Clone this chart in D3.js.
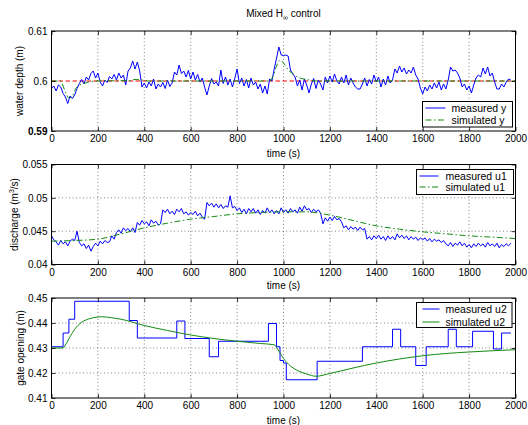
<!DOCTYPE html>
<html>
<head>
<meta charset="utf-8">
<script src="https://cdn.jsdelivr.net/npm/d3@7"></script>
<style>
  body { margin: 0; background: #fff; }
  svg { font-family: "Liberation Sans", Arial, sans-serif; }
</style>
</head>
<body>
<svg id="chart" width="528" height="425"></svg>
<script>
// ---------- data ----------

// measured signals are sampled every 10 s, 0 .. 1980 s
var sampleStep = 10;

var depthMeasured = [
  0.5985,0.5990,0.5980,0.5992,0.5988,0.5975,0.5968,0.5955,0.5970,0.5965,
  0.5972,0.5985,0.5995,0.6003,0.5994,0.6008,0.6002,0.6015,0.6020,0.6006,
  0.6016,0.5998,0.5990,0.6002,0.5997,0.6009,0.6004,0.6013,0.6002,0.6016,
  0.6006,0.6012,0.5992,0.6020,0.6026,0.6040,0.6024,0.6038,0.6020,0.5988,
  0.5996,0.5986,0.5998,0.5990,0.6004,0.5984,0.5994,0.5988,0.5997,0.5985,
  0.6002,0.5989,0.5996,0.6018,0.6012,0.6032,0.6015,0.6020,0.6008,0.6021,
  0.6004,0.6018,0.6002,0.6013,0.5998,0.6006,0.5988,0.5972,0.5990,0.6005,
  0.5994,0.5998,0.5990,0.6022,0.5995,0.6008,0.5992,0.6004,0.5988,0.6005,
  0.6024,0.5995,0.6006,0.5990,0.6003,0.5986,0.6006,0.5992,0.5998,0.5984,
  0.5994,0.5976,0.5990,0.5974,0.6004,0.6000,0.6024,0.6046,0.6068,0.6052,
  0.6051,0.6052,0.6050,0.6022,0.6014,0.6008,0.5990,0.6002,0.5982,0.6004,
  0.5992,0.5976,0.5994,0.6005,0.5985,0.6002,0.5994,0.5982,0.6008,0.5996,
  0.6010,0.5998,0.6014,0.6000,0.5994,0.6008,0.5996,0.6012,0.5992,0.6006,
  0.5996,0.5988,0.5984,0.5984,0.5994,0.6006,0.5990,0.6003,0.5994,0.6012,
  0.5998,0.6008,0.5988,0.6004,0.5992,0.6010,0.5996,0.6002,0.6024,0.6016,
  0.6030,0.6018,0.6026,0.6014,0.6022,0.6016,0.6028,0.6012,0.6004,0.5986,
  0.5974,0.5988,0.5980,0.5992,0.5984,0.5996,0.5986,0.5998,0.5982,0.5994,
  0.5984,0.6002,0.6028,0.6020,0.6022,0.6016,0.6006,0.5988,0.5994,0.5982,
  0.5990,0.5976,0.5992,0.6006,0.6012,0.6008,0.6026,0.6014,0.6028,0.6010,
  0.6016,0.5998,0.5984,0.5984,0.5994,0.5988,0.5998,0.6004,0.6002
];

var depthSimT = [0, 40, 50, 60, 75, 90, 105, 120, 140, 160, 200, 340, 360, 390, 420,
                 940, 955, 970, 985, 1000, 1020, 1040, 1060, 1100, 1150, 2000];
var depthSimV = [0.6000, 0.6000, 0.5990, 0.5978, 0.5966, 0.5970, 0.5985, 0.5992, 0.5995, 0.5998, 0.6000,
                 0.6001, 0.6003, 0.6002, 0.6000, 0.6000, 0.6010, 0.6030, 0.6042, 0.6036,
                 0.6022, 0.6015, 0.6008, 0.6003, 0.6000, 0.6000];
var depthRef = 0.6;

var flowMeasured = [
  0.0443,0.0437,0.0434,0.0429,0.0436,0.0431,0.0434,0.0428,0.0435,0.0438,
  0.0436,0.0450,0.0433,0.0428,0.0431,0.0424,0.0429,0.0420,0.0427,0.0432,
  0.0428,0.0435,0.0431,0.0436,0.0433,0.0434,0.0443,0.0438,0.0448,0.0452,
  0.0447,0.0455,0.0451,0.0454,0.0449,0.0455,0.0448,0.0463,0.0459,0.0466,
  0.0461,0.0464,0.0458,0.0467,0.0462,0.0465,0.0459,0.0461,0.0482,0.0478,
  0.0483,0.0476,0.0480,0.0475,0.0483,0.0479,0.0484,0.0476,0.0479,0.0474,
  0.0478,0.0475,0.0480,0.0473,0.0477,0.0471,0.0468,0.0493,0.0488,0.0492,
  0.0486,0.0491,0.0485,0.0490,0.0484,0.0488,0.0486,0.0503,0.0485,0.0487,
  0.0481,0.0485,0.0478,0.0483,0.0476,0.0484,0.0479,0.0484,0.0477,0.0482,
  0.0475,0.0481,0.0477,0.0485,0.0478,0.0482,0.0476,0.0481,0.0476,0.0485,
  0.0478,0.0482,0.0477,0.0484,0.0479,0.0482,0.0477,0.0486,0.0480,0.0488,
  0.0482,0.0484,0.0478,0.0483,0.0479,0.0482,0.0477,0.0461,0.0470,0.0465,
  0.0471,0.0466,0.0472,0.0467,0.0469,0.0464,0.0455,0.0458,0.0452,0.0457,
  0.0453,0.0456,0.0451,0.0456,0.0452,0.0454,0.0438,0.0442,0.0437,0.0443,
  0.0439,0.0444,0.0438,0.0442,0.0436,0.0443,0.0438,0.0442,0.0437,0.0446,
  0.0440,0.0444,0.0439,0.0443,0.0437,0.0442,0.0438,0.0441,0.0436,0.0440,
  0.0437,0.0440,0.0435,0.0439,0.0434,0.0438,0.0435,0.0437,0.0433,0.0436,
  0.0431,0.0428,0.0433,0.0427,0.0432,0.0429,0.0434,0.0428,0.0432,0.0426,
  0.0430,0.0425,0.0431,0.0427,0.0432,0.0428,0.0431,0.0426,0.0433,0.0428,
  0.0431,0.0427,0.0432,0.0425,0.0430,0.0427,0.0431,0.0428,0.0432
];

var flowSimT = [0, 100, 200, 300, 400, 500, 600, 700, 800, 900, 1000,
                1100, 1200, 1300, 1400, 1500, 1600, 1700, 1800, 1900, 2000];
var flowSimV = [0.0435, 0.0436, 0.0438, 0.0446, 0.0455, 0.0462, 0.0468, 0.0472, 0.0476, 0.0478, 0.0479,
                0.0479, 0.0474, 0.0466, 0.0458, 0.0453, 0.0449, 0.0446, 0.0443, 0.0441, 0.0439];

// gate opening is a staircase: time each level starts, and the level
var gateStepT = [0, 50, 75, 100, 335, 370, 540, 575, 680, 720, 935, 970, 985, 1000, 1012,
                 1145, 1340, 1470, 1505, 1570, 1615, 1710, 1745, 1815, 1905, 1940, 1980];
var gateStepV = [0.4305, 0.4360, 0.4415, 0.4487, 0.4410, 0.4340, 0.4408, 0.4338, 0.4265, 0.4327,
                 0.4398, 0.4305, 0.4250, 0.4240, 0.4173, 0.4247, 0.4305, 0.4375, 0.4305, 0.4230,
                 0.4305, 0.4375, 0.4305, 0.4367, 0.4296, 0.4360, 0.4360];

var gateSimT = [0, 50, 60, 80, 100, 130, 160, 200, 215, 260, 300, 400, 500, 600, 700, 800, 900,
                960, 975, 1000, 1030, 1060, 1100, 1140, 1200, 1300, 1400, 1500, 1600, 1700, 1800, 1900, 2000];
var gateSimV = [0.4300, 0.4300, 0.4312, 0.4345, 0.4375, 0.4403, 0.4416, 0.4424, 0.4425, 0.4421, 0.4415,
                0.4390, 0.4370, 0.4352, 0.4338, 0.4327, 0.4318, 0.4313, 0.4295, 0.4258, 0.4228,
                0.4210, 0.4196, 0.4187, 0.4198, 0.4220, 0.4240, 0.4256, 0.4269, 0.4278, 0.4284, 0.4289, 0.4293];

var timeTicks = [0, 200, 400, 600, 800, 1000, 1200, 1400, 1600, 1800, 2000];
var depthTicks = [0.59, 0.6, 0.61];
var flowTicks = [0.04, 0.045, 0.05, 0.055];
var gateTicks = [0.41, 0.42, 0.43, 0.44, 0.45];

// ---------- layout ----------
var left = 51.5, right = 515.5;
var svg = d3.select("#chart");

var blue = "#0000ff";
var green = "#138a13";

function pairs(tArr, vArr) {
  return tArr.map(function(t, i) { return [t, vArr[i]]; });
}
function sampled(vArr) {
  return vArr.map(function(v, i) { return [i * sampleStep, v]; });
}

var x = d3.scaleLinear().domain([0, 2000]).range([left, right]);

function drawPanel(p) {
  var y = d3.scaleLinear().domain(p.domain).range([p.bottom, p.top]);
  var g = svg.append("g");

  // dotted grid
  g.selectAll(".vgrid").data(timeTicks.slice(1, -1)).enter().append("line")
    .attr("x1", function(d) { return x(d); }).attr("x2", function(d) { return x(d); })
    .attr("y1", p.top).attr("y2", p.bottom)
    .attr("stroke", "#333").attr("stroke-width", 0.6).attr("stroke-dasharray", "1,2.5");
  if (p.hgrid) {
    g.selectAll(".hgrid").data(p.ticks.slice(1, -1)).enter().append("line")
      .attr("x1", left).attr("x2", right)
      .attr("y1", function(d) { return y(d); }).attr("y2", function(d) { return y(d); })
      .attr("stroke", "#333").attr("stroke-width", 0.6).attr("stroke-dasharray", "1,2.5");
  }

  // the data lines
  p.lines.forEach(function(l) {
    var gen = d3.line()
      .x(function(d) { return x(d[0]); })
      .y(function(d) { return y(d[1]); })
      .curve(l.curve || d3.curveLinear);
    g.append("path").datum(l.data)
      .attr("fill", "none")
      .attr("stroke", l.color)
      .attr("stroke-width", l.width || 1)
      .attr("stroke-dasharray", l.dash || null)
      .attr("d", gen);
  });

  // axes, ticks pointing inward on all four sides
  var fmt = function(d) { return String(+d.toFixed(4)); };
  var xb = g.append("g").attr("transform", "translate(0," + p.bottom + ")")
    .call(d3.axisBottom(x).tickValues(timeTicks).tickSize(-4).tickPadding(4).tickSizeOuter(0)
      .tickFormat(function(d) { return String(d); }));
  g.append("g").attr("transform", "translate(0," + p.top + ")")
    .call(d3.axisTop(x).tickValues(timeTicks).tickSize(-4).tickSizeOuter(0).tickFormat(""));
  var yl = g.append("g").attr("transform", "translate(" + left + ",0)")
    .call(d3.axisLeft(y).tickValues(p.ticks).tickSize(-4).tickPadding(4).tickSizeOuter(0).tickFormat(fmt));
  g.append("g").attr("transform", "translate(" + right + ",0)")
    .call(d3.axisRight(y).tickValues(p.ticks).tickSize(-4).tickSizeOuter(0).tickFormat(""));
  g.selectAll(".domain").remove();
  g.selectAll(".tick line").attr("stroke", "#000").attr("stroke-width", 0.8);
  g.selectAll(".tick text").attr("font-size", "10px").attr("fill", "#000")
    .attr("font-family", "Liberation Sans, Arial, sans-serif");
  xb.selectAll(".tick text").attr("dy", "0.71em");
  if (p.boldBottomTick) {
    yl.selectAll(".tick text").filter(function(d) { return d === p.ticks[0]; })
      .attr("font-weight", "bold");
  }

  g.append("rect")
    .attr("x", left).attr("y", p.top)
    .attr("width", right - left).attr("height", p.bottom - p.top)
    .attr("fill", "none").attr("stroke", "#000").attr("stroke-width", 1);

  // axis labels
  g.append("text").attr("x", (left + right) / 2).attr("y", p.xlabelY)
    .attr("text-anchor", "middle").attr("font-size", "10px").text("time (s)");
  var yt = g.append("text")
    .attr("transform", "translate(" + p.ylabelX + "," + (p.top + p.bottom) / 2 + ") rotate(-90)")
    .attr("text-anchor", "middle").attr("font-size", "10px");
  p.ylabel(yt);

  // legend box
  var lg = p.legend;
  g.append("rect").attr("x", lg.x).attr("y", lg.y).attr("width", lg.w).attr("height", lg.h)
    .attr("fill", "#fff").attr("stroke", "#000").attr("stroke-width", 1);
  lg.items.forEach(function(it, i) {
    var ry = lg.y + lg.rows[i];
    g.append("line").attr("x1", lg.x + lg.lx0).attr("x2", lg.x + lg.lx1)
      .attr("y1", ry).attr("y2", ry)
      .attr("stroke", it.color).attr("stroke-width", 1).attr("stroke-dasharray", it.dash || null);
    g.append("text").attr("x", lg.x + lg.tx).attr("y", ry).attr("dy", "0.35em")
      .attr("font-size", "10.5px").text(it.label);
  });
}

// title
var title = svg.append("text").attr("x", (left + right) / 2).attr("y", 17)
  .attr("text-anchor", "middle").attr("font-size", "10px");
title.append("tspan").text("Mixed H");
title.append("tspan").attr("font-size", "7px").attr("dy", 3).text("\u221e");
title.append("tspan").attr("dy", -3).text(" control");

var simDash = "6,2.5,1.5,2.5";

drawPanel({
  top: 31, bottom: 131, domain: [0.59, 0.61], ticks: depthTicks, hgrid: false,
  boldBottomTick: true, xlabelY: 157, ylabelX: 23,
  ylabel: function(t) { t.text("water depth (m)"); },
  lines: [
    { data: [[0, depthRef], [2000, depthRef]], color: "#ff0000", dash: "4.5,2.5" },
    { data: sampled(depthMeasured), color: blue },
    { data: pairs(depthSimT, depthSimV), color: green, dash: simDash, curve: d3.curveMonotoneX }
  ],
  legend: { x: 422.5, y: 101.5, w: 90, h: 25.5, rows: [6.5, 18.5], lx0: 3, lx1: 23, tx: 29,
    items: [{ label: "measured y", color: blue }, { label: "simulated y", color: green, dash: simDash }] }
});

drawPanel({
  top: 164.5, bottom: 264.5, domain: [0.04, 0.055], ticks: flowTicks, hgrid: true,
  xlabelY: 289, ylabelX: 18,
  ylabel: function(t) {
    t.append("tspan").text("discharge (m");
    t.append("tspan").attr("font-size", "7px").attr("dy", -4).text("3");
    t.append("tspan").attr("dy", 4).text("/s)");
  },
  lines: [
    { data: sampled(flowMeasured), color: blue },
    { data: pairs(flowSimT, flowSimV), color: green, dash: simDash, curve: d3.curveMonotoneX }
  ],
  legend: { x: 416.5, y: 169.5, w: 97, h: 25, rows: [6.5, 17.5], lx0: 3, lx1: 22, tx: 29,
    items: [{ label: "measured u1", color: blue }, { label: "simulated u1", color: green, dash: simDash }] }
});

drawPanel({
  top: 298, bottom: 398, domain: [0.41, 0.45], ticks: gateTicks, hgrid: true,
  xlabelY: 424, ylabelX: 24,
  ylabel: function(t) { t.text("gate opening (m)"); },
  lines: [
    { data: pairs(gateStepT, gateStepV), color: blue, curve: d3.curveStepAfter },
    { data: pairs(gateSimT, gateSimV), color: green, curve: d3.curveMonotoneX }
  ],
  legend: { x: 416.5, y: 302.5, w: 95.5, h: 25, rows: [6.5, 19.5], lx0: 6, lx1: 23, tx: 29,
    items: [{ label: "measured u2", color: blue }, { label: "simulated u2", color: green }] }
});
</script>
</body>
</html>
